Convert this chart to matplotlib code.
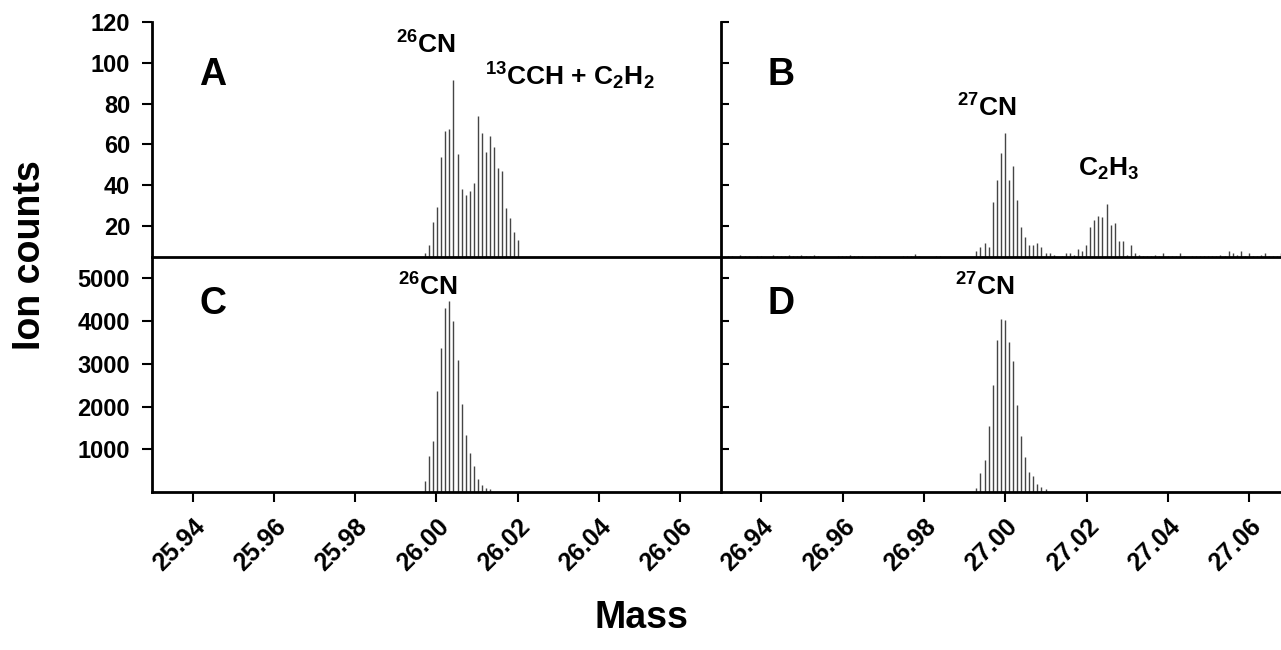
"""
Mass spectra of the CN isotopologue region: panels A-D, recreated.
Saves out.png (1281x650).
"""

import matplotlib

matplotlib.use("Agg")
import matplotlib.pyplot as plt
import numpy as np

# ── Data ─────────────────────────────────────────────────────────────────
STEP = 0.001  # mass spacing between sampled channels

# A: mass 26 region, low counts
A_START = 25.9972
A_COUNTS = [7, 10.7, 21.8, 29.2, 54, 66.6, 67.4, 91.6, 55.1, 38, 35.2, 37.2,
            40.9, 74.1, 65.4, 56.4, 64.1, 58.9, 48.3, 47, 29, 24, 17, 13.1]

# B: mass 27 region, low counts (whole scan, incl. baseline noise)
B_START = 26.9299
B_COUNTS = [
    5.3, 0, 5.5, 5.4, 0, 5.6, 5.3, 5.5, 0, 5.4,
    5.5, 0, 0, 5.6, 5.4, 5.3, 5.5, 5.6, 5.4, 5.3,
    5.8, 5.4, 5.5, 6.0, 5.3, 0, 0, 0, 0, 5.4,
    5.5, 5.3, 5.6, 5.4, 5.5, 5.3, 0, 0, 5.5, 5.4,
    0, 0, 0, 0, 0, 5.4, 5.5, 5.4, 6.5, 5.3,
    0, 0, 0, 5.4, 5.5, 0, 0, 0, 0, 0,
    0, 0, 0,
    7.6, 9.7, 11.5, 9.6, 31.9, 42.4, 55.9, 65.4, 42.4, 49.3,
    32.7, 19.4, 14.6, 10.5, 10.5, 11.5, 9.6, 6.9, 6.6, 5.8,
    0, 5.3, 6.6, 6.6, 5.8, 8.5, 7.6, 10.5, 19.4, 22.9,
    24.9, 24.2, 30.6, 20.4, 21.4, 12.7, 12.7, 5.8, 10.5, 6.8,
    5.6,
    5.5, 5.4, 5.5, 5.6, 5.4, 6.9, 5.4, 5.5, 5.4, 6.9,
    5.3, 0, 5.4, 5.4, 5.5, 5.4, 5.3, 5.5, 5.4, 5.6,
    5.5, 7.7, 6.9, 5.6, 7.7, 5.5, 6.8, 5.4, 5.5, 5.6,
    6.9, 5.4, 5.5, 5.4, 6.9, 5.5, 5.4,
]

# C: mass 26 region, high counts
C_START = 25.9972
C_COUNTS = [268, 843, 1187, 2364, 3370, 4314, 4462, 4002, 3082, 2068, 1343,
            914, 610, 305, 165, 104, 64]

# D: mass 27 region, high counts
D_START = 26.9929
D_COUNTS = [104, 455, 743, 1545, 2497, 3566, 4057, 4025, 3510, 3058, 2045,
            1311, 820, 470, 376, 188, 127, 64]

LEFT_XTICKS = [25.94, 25.96, 25.98, 26.00, 26.02, 26.04, 26.06]
RIGHT_XTICKS = [26.94, 26.96, 26.98, 27.00, 27.02, 27.04, 27.06]
TOP_YTICKS = [20, 40, 60, 80, 100, 120]
BOT_YTICKS = [1000, 2000, 3000, 4000, 5000]

# ── Style ────────────────────────────────────────────────────────────────
plt.rcParams["font.family"] = ["Liberation Sans", "DejaVu Sans"]
plt.rcParams["font.weight"] = "bold"
plt.rcParams["mathtext.fontset"] = "custom"
plt.rcParams["mathtext.rm"] = "Liberation Sans:bold"
plt.rcParams["mathtext.it"] = "Liberation Sans:bold"
plt.rcParams["mathtext.bf"] = "Liberation Sans:bold"
plt.rcParams["mathtext.default"] = "rm"

BAR_C = "#454545"
SPINE_W = 2.0
YTICK_FS = 17
XTICK_FS = 18
LETTER_FS = 27
ANN_FS = 19


def masses(start, counts):
    return start + STEP * np.arange(len(counts))


fig = plt.figure(figsize=(12.81, 6.5), dpi=100)

W = 1281.0
H = 650.0
x_l, x_m, x_r = 152.4, 720.5, 1290.0
y_t, y_m, y_b = 22.0, 257.0, 492.0


def make_ax(x0, x1, y0, y1):
    return fig.add_axes([x0 / W, (H - y1) / H, (x1 - x0) / W, (y1 - y0) / H])


axA = make_ax(x_l, x_m, y_t, y_m)
axB = make_ax(x_m, x_r, y_t, y_m)
axC = make_ax(x_l, x_m, y_m, y_b)
axD = make_ax(x_m, x_r, y_m, y_b)

panels = [
    (axA, A_START, A_COUNTS, (25.93, 26.07), (4.8, 120)),
    (axB, B_START, B_COUNTS, (26.93, 27.07), (4.8, 120)),
    (axC, C_START, C_COUNTS, (25.93, 26.07), (0, 5500)),
    (axD, D_START, D_COUNTS, (26.93, 27.07), (0, 5500)),
]

for ax, start, counts, xlim, ylim in panels:
    ax.vlines(masses(start, counts), 0, counts, color=BAR_C, linewidth=1.0)
    ax.set_xlim(*xlim)
    ax.set_ylim(*ylim)
    ax.spines["top"].set_visible(False)
    ax.spines["right"].set_visible(False)
    for s in ("left", "bottom"):
        ax.spines[s].set_linewidth(SPINE_W)
    ax.patch.set_alpha(0)

# y axes
for ax, ticks in ((axA, TOP_YTICKS), (axC, BOT_YTICKS)):
    ax.set_yticks(ticks)
    ax.tick_params(axis="y", direction="out", length=7, width=1.5,
                   labelsize=YTICK_FS, pad=9)
for ax, ticks in ((axB, TOP_YTICKS), (axD, BOT_YTICKS)):
    ax.set_yticks(ticks)
    ax.tick_params(axis="y", direction="in", length=6, width=1.5,
                   labelleft=False)

# x axes
for ax in (axA, axB):
    ax.set_xticks([])
for ax, ticks in ((axC, LEFT_XTICKS), (axD, RIGHT_XTICKS)):
    ax.set_xticks(ticks)
    ax.set_xticklabels([f"{t:.2f}" for t in ticks], rotation=45, ha="right",
                       rotation_mode="anchor")
    ax.tick_params(axis="x", direction="out", length=7, width=1.5,
                   labelsize=XTICK_FS, pad=9)

# panel letters
for ax, letter in ((axA, "A"), (axB, "B"), (axC, "C"), (axD, "D")):
    ax.text(0.083, 0.80 if ax in (axC, axD) else 0.775, letter,
            transform=ax.transAxes, fontsize=LETTER_FS, fontweight="bold",
            ha="left", va="center")

# peak annotations
axA.text(25.9975, 108.5, r"$^{26}$CN", fontsize=ANN_FS, ha="center", va="center")
axA.text(26.0330, 93.5, r"$^{13}$CCH + C$_2$H$_2$", fontsize=ANN_FS,
         ha="center", va="center")
axB.text(26.9955, 78, r"$^{27}$CN", fontsize=ANN_FS, ha="center", va="center")
axB.text(27.0255, 48, r"C$_2$H$_3$", fontsize=ANN_FS, ha="center", va="center")
axC.text(25.9980, 4800, r"$^{26}$CN", fontsize=ANN_FS, ha="center", va="center")
axD.text(26.9950, 4800, r"$^{27}$CN", fontsize=ANN_FS, ha="center", va="center")

# axis titles
fig.text(30 / W, 1 - 255 / H, "Ion counts", rotation=90, fontsize=27,
         fontweight="bold", ha="center", va="center")
fig.text(641 / W, 1 - 618 / H, "Mass", fontsize=27, fontweight="bold",
         ha="center", va="center")

fig.savefig("out.png", dpi=100)
plt.close(fig)
